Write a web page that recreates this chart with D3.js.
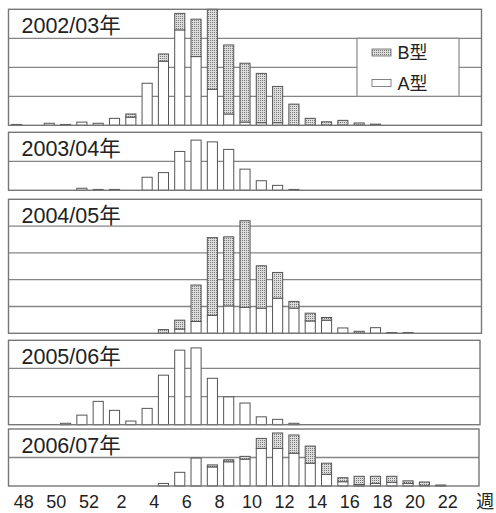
<!DOCTYPE html>
<html>
<head>
<meta charset="utf-8">
<script src="https://cdn.jsdelivr.net/npm/d3@7"></script>
<style>
body { margin: 0; background: #fff; }
text { font-family: "Liberation Sans", "Noto Sans CJK JP", sans-serif; fill: #222; }
</style>
</head>
<body>
<svg width="496" height="513"></svg>
<script>
// week categories on the x axis (48th week of one year to 24th of the next)
var weeks = [48, 49, 50, 51, 52, 1, 2, 3, 4, 5, 6, 7, 8, 9, 10, 11, 12, 13, 14, 15, 16, 17, 18, 19, 20, 21, 22, 23, 24];
var tickWeeks = [48, 50, 52, 2, 4, 6, 8, 10, 12, 14, 16, 18, 20, 22];
var seasons = ["2002/03年", "2003/04年", "2004/05年", "2005/06年", "2006/07年"];
var typeNames = ["A型", "B型"];

// values per week, same order as weeks (one gridline = 10)
var a0203 = [0, 0, 0.7, 0, 1.1, 0.7, 2.4, 2.8, 14.5, 22.1, 32.9, 23.7, 12.4, 3.9, 1.1, 0.9, 0.9, 0, 0, 0, 0, 0, 0, 0, 0, 0, 0, 0, 0];
var b0203 = [0.3, 0, 0, 0.3, 0, 0, 0, 1.1, 0, 2.5, 5.7, 12.9, 27.6, 23.8, 20.3, 17.0, 12.5, 7.3, 2.4, 1.2, 1.7, 0.8, 0.4, 0, 0, 0, 0, 0, 0];
var a0304 = [0, 0, 0, 0, 0.7, 0.3, 0.3, 0, 4.5, 6.1, 13.4, 17.3, 16.7, 14.1, 7.3, 3.3, 1.7, 0.3, 0, 0, 0, 0, 0, 0, 0, 0, 0, 0, 0];
var b0304 = [0, 0, 0, 0, 0, 0, 0, 0, 0, 0, 0, 0, 0, 0, 0, 0, 0, 0, 0, 0, 0, 0, 0, 0, 0, 0, 0, 0, 0];
var a0405 = [0, 0, 0, 0, 0, 0, 0, 0, 0, 0, 1.6, 4.4, 6.7, 10.2, 9.7, 9.4, 13.1, 9.4, 4.6, 4.9, 2.0, 0, 2.1, 0.3, 0.3, 0, 0, 0, 0];
var b0405 = [0, 0, 0, 0, 0, 0, 0, 0, 0, 1.4, 3.3, 13.6, 29.0, 25.8, 32.3, 15.8, 9.6, 2.5, 2.9, 1.0, 0, 0.75, 0, 0, 0, 0, 0, 0, 0];
var a0506 = [0, 0, 0, 0.5, 3.4, 8.3, 5.1, 1.3, 5.8, 17.6, 26.5, 27.3, 16.5, 9.9, 7.7, 2.8, 1.9, 0.5, 0, 0, 0, 0, 0, 0, 0, 0, 0, 0, 0];
var b0506 = [0, 0, 0, 0, 0, 0, 0, 0, 0, 0, 0, 0, 0, 0, 0, 0, 0, 0, 0, 0, 0, 0, 0, 0, 0, 0, 0, 0, 0];
var a0607 = [0, 0, 0, 0, 0, 0, 0, 0, 0, 0.9, 4.8, 9.8, 6.7, 8.5, 9.4, 13.2, 13.2, 11.5, 8.0, 4.1, 1.5, 0.5, 0.9, 1.3, 0.9, 0.2, 0.35, 0, 0];
var b0607 = [0, 0, 0, 0, 0, 0, 0, 0, 0, 0, 0, 0, 0.7, 0.7, 1.0, 3.5, 5.4, 6.4, 6.0, 3.9, 1.4, 2.9, 2.5, 2.1, 0.9, 1.2, 0, 0, 0];

var typeA = [a0203, a0304, a0405, a0506, a0607];
var typeB = [b0203, b0304, b0405, b0506, b0607];

var svg = d3.select('svg');

// dotted fill for type B
var pat = svg.append('defs').append('pattern')
    .attr('id', 'dots').attr('patternUnits', 'userSpaceOnUse')
    .attr('width', 2).attr('height', 2);
pat.append('rect').attr('width', 2).attr('height', 2).attr('fill', '#dcdcdc');
pat.append('rect').attr('width', 1).attr('height', 1).attr('fill', '#7a7a7a');

var x = d3.scaleBand().domain(weeks).range([8.5, 481.5]).paddingInner(0.38).paddingOuter(0.19);

// panel frames: top, bottom, right edge, number of grid bands
var panels = [
    {top: 9.3, bottom: 125.3, right: 481.5, bands: 4},
    {top: 132.3, bottom: 190.3, right: 481.5, bands: 2},
    {top: 199.3, bottom: 333.3, right: 481.5, bands: 5},
    {top: 340.3, bottom: 424.7, right: 480, bands: 3},
    {top: 429, bottom: 486, right: 479, bands: 2}
];

var stack = d3.stack().keys(['A', 'B']);

panels.forEach(function(p, i) {
    var y = d3.scaleLinear().domain([0, p.bands * 10]).range([p.bottom, p.top]);
    var g = svg.append('g').attr('class', 'panel');

    // gridlines
    g.selectAll('.grid')
        .data(d3.range(10, p.bands * 10, 10))
        .enter().append('line')
        .attr('class', 'grid')
        .attr('x1', 8.5).attr('x2', p.right)
        .attr('y1', d => y(d)).attr('y2', d => y(d))
        .attr('stroke', '#858585').attr('stroke-width', 1.3);

    var rows = weeks.map(function(w, j) {
        return {week: w, A: typeA[i][j], B: typeB[i][j]};
    });

    var layers = g.selectAll('.layer')
        .data(stack(rows))
        .enter().append('g')
        .attr('class', 'layer')
        .attr('fill', d => d.key === 'A' ? '#fff' : 'url(#dots)');

    layers.selectAll('rect')
        .data(d => d.filter(v => v[1] - v[0] > 0))
        .enter().append('rect')
        .attr('x', d => x(d.data.week))
        .attr('width', x.bandwidth())
        .attr('y', d => y(d[1]))
        .attr('height', d => y(d[0]) - y(d[1]))
        .attr('stroke', '#555').attr('stroke-width', 1);

    // frame
    g.append('rect')
        .attr('x', 8.5).attr('y', p.top)
        .attr('width', p.right - 8.5).attr('height', p.bottom - p.top)
        .attr('fill', 'none').attr('stroke', '#777').attr('stroke-width', 1.4);

    g.append('text')
        .attr('x', 21.5).attr('y', p.top + 23.5)
        .attr('font-size', '21.5px')
        .text(seasons[i]);

    // legend sits in the first panel
    if (i === 0) {
        var lg = g.append('g').attr('class', 'legend');
        lg.append('rect')
            .attr('x', 357).attr('y', y(30))
            .attr('width', 102).attr('height', y(10) - y(30))
            .attr('fill', '#fff').attr('stroke', '#888').attr('stroke-width', 1.2);
        var items = [{name: typeNames[1], fill: 'url(#dots)', cy: 52.5},
                     {name: typeNames[0], fill: '#fff', cy: 83}];
        items.forEach(function(it) {
            lg.append('rect')
                .attr('x', 372).attr('y', it.cy - 3.5)
                .attr('width', 19).attr('height', 7)
                .attr('fill', it.fill).attr('stroke', '#666').attr('stroke-width', 0.8);
            lg.append('text')
                .attr('x', 397.5).attr('y', it.cy + 6.5)
                .attr('font-size', '18px')
                .text(it.name);
        });
    }
});

// week labels under the last panel
var axis = d3.axisBottom(x).tickValues(tickWeeks).tickSize(0);
var ax = svg.append('g')
    .attr('transform', 'translate(7,508)')
    .call(axis);
ax.select('.domain').remove();
ax.selectAll('text')
    .attr('y', 0).attr('dy', null)
    .attr('font-size', '18px')
    .attr('fill', '#222');

svg.append('text')
    .attr('x', x(24) + x.bandwidth() / 2 + 12)
    .attr('y', 508)
    .attr('text-anchor', 'middle')
    .attr('font-size', '18px')
    .text('週');
</script>
</body>
</html>
